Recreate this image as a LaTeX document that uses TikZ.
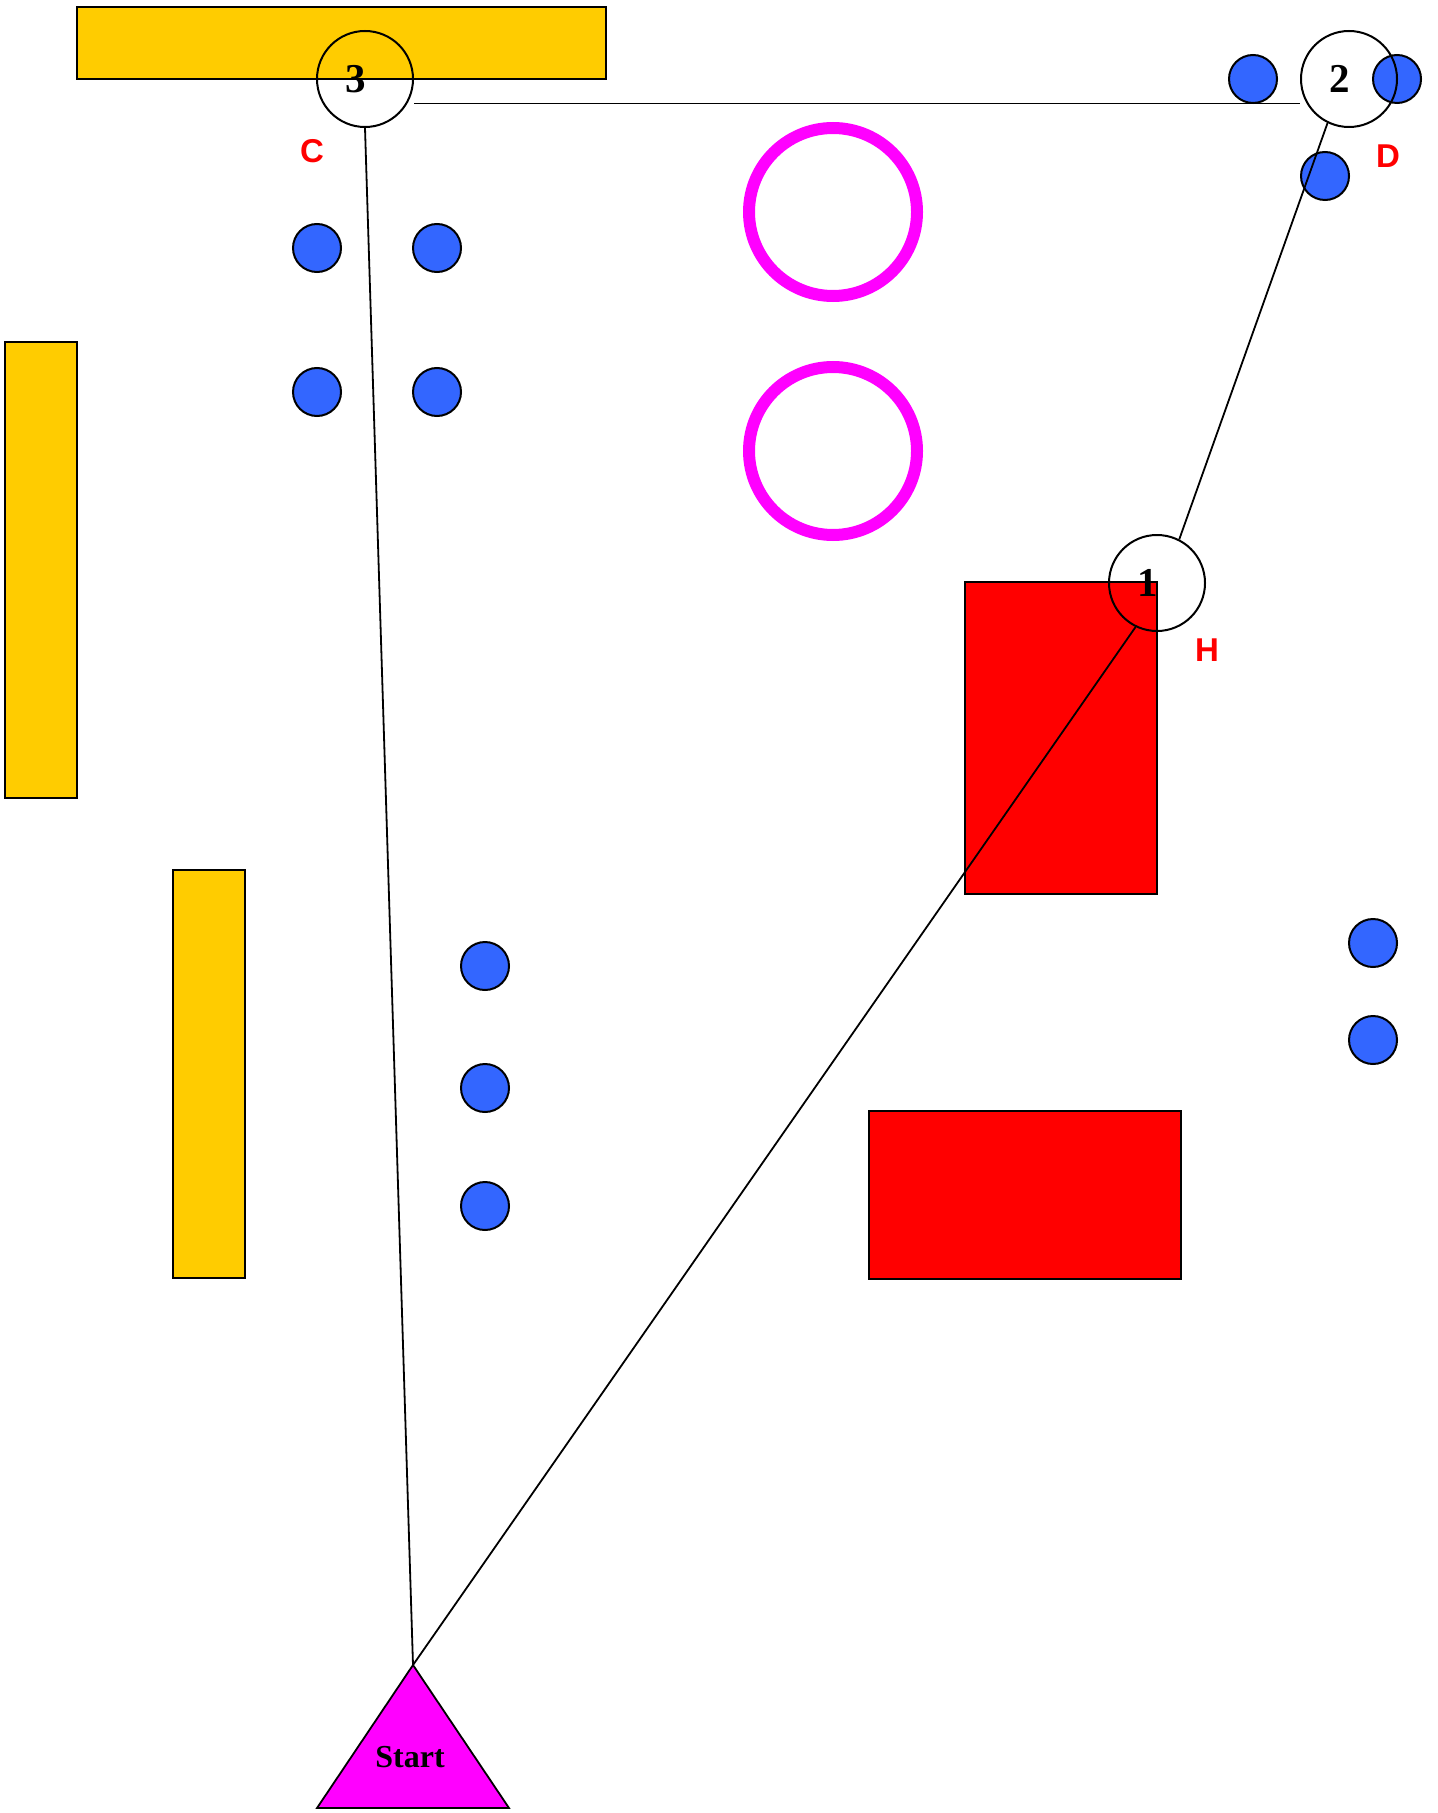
\documentclass[tikz,border=0pt]{standalone}
\usepackage{fontspec}
\setmainfont{Liberation Serif}
\newfontfamily\gatefont{Liberation Sans}
\definecolor{wallyellow}{HTML}{FFCC00}
\definecolor{coneblue}{HTML}{3366FF}
\definecolor{hoopmagenta}{HTML}{FF00FF}

\begin{document}
\begin{tikzpicture}[x = 0.5pt, y = -0.5pt,
    wall/.style = {draw, line width=1pt, fill=wallyellow},
    block/.style = {draw, line width=1pt, fill=red},
    hoop/.style = {draw=hoopmagenta, line width=6pt},
    cone/.style = {circle, draw, line width=1pt, fill=coneblue, minimum size=24pt, inner sep=0pt},
    waypoint/.style = {circle, draw, line width=1pt, minimum size=48pt, inner sep=0pt},
    wpnum/.style = {font=\fontsize{20.5}{20.5}\selectfont\bfseries, inner sep=0pt},
    gate/.style = {text=red, font=\gatefont\fontsize{16.5}{16.5}\selectfont\bfseries, inner sep=0pt},
    path/.style = {line width=0.9pt}]
    \useasboundingbox (0, 0) rectangle (1437, 1813);

    % walls and blocks
    \draw[wall] (77, 7) rectangle (606, 79);
    \draw[wall] (5, 342) rectangle (77, 798);
    \draw[wall] (173, 870) rectangle (245, 1278);
    \draw[block] (965, 582) rectangle (1157, 894);
    \draw[block] (869, 1111) rectangle (1181, 1279);

    \draw[hoop] (833, 212) circle[radius=42pt];
    \draw[hoop] (833, 451) circle[radius=42pt];

    % cones
    \foreach \cx/\cy [count=\i] in {317/248, 437/248, 317/392, 437/392,
        485/966, 485/1088, 485/1206, 1373/943, 1373/1040,
        1253/79, 1397/79, 1325/176}
        \node[cone] (cone\i) at (\cx, \cy) {};

    \draw[fill=hoopmagenta, line width=0.9pt] (317, 1808) -- (413, 1665) -- (509, 1808) -- cycle;
    \coordinate (start) at (413, 1665);
    \node[font=\fontsize{16}{16}\selectfont\bfseries, inner sep=0pt] (starttext) at (410, 1757) {Start};

    \node[waypoint] (wp1) at (1157, 583) {};
    \node[waypoint] (wp2) at (1349, 79) {};
    \node[waypoint] (wp3) at (365, 79) {};
    \node[wpnum] (num1) at ([xshift=-4.5pt]wp1.center) {1};
    \node[wpnum] (num2) at ([xshift=-4.5pt]wp2.center) {2};
    \node[wpnum] (num3) at ([xshift=-4.5pt]wp3.center) {3};

    \draw[path] (start) -- (wp3.south);
    \draw[path] (start) -- (wp1.244);
    \draw[path] (wp1.63) -- (wp2.244);
    \draw[path] (wp3.-30 -| wp3.east) -- (wp2.210 -| wp2.west);

    \node[gate] (gateC) at (312, 151) {C};
    \node[gate] (gateD) at (1388, 156) {D};
    \node[gate] (gateH) at (1207, 650) {H};
\end{tikzpicture}
\end{document}
